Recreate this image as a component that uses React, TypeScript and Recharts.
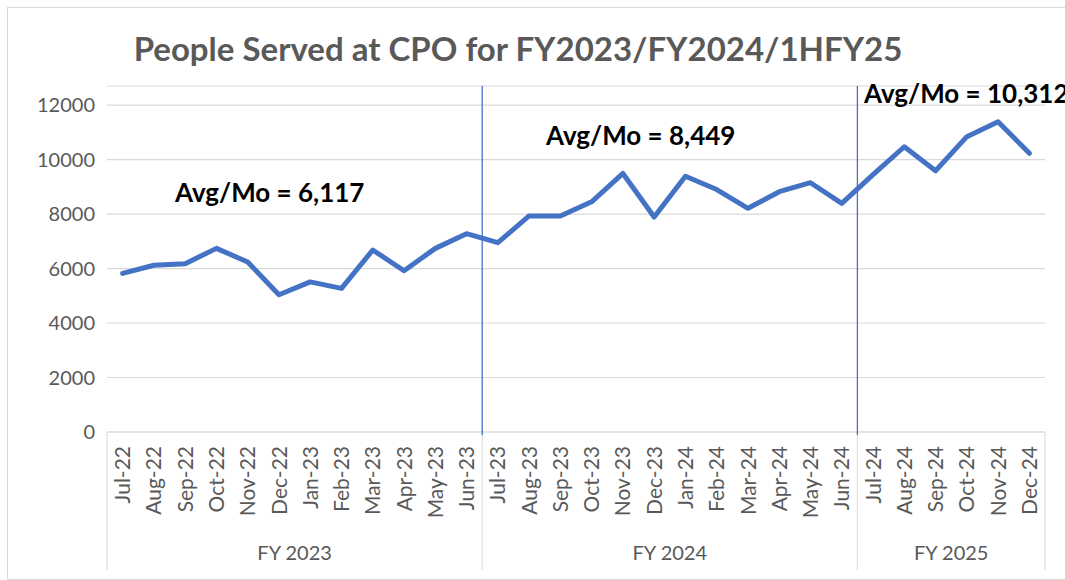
import { ComposedChart, Line, XAxis, YAxis, CartesianGrid } from 'recharts';

const months = [
  'Jul-22', 'Aug-22', 'Sep-22', 'Oct-22', 'Nov-22', 'Dec-22',
  'Jan-23', 'Feb-23', 'Mar-23', 'Apr-23', 'May-23', 'Jun-23',
  'Jul-23', 'Aug-23', 'Sep-23', 'Oct-23', 'Nov-23', 'Dec-23',
  'Jan-24', 'Feb-24', 'Mar-24', 'Apr-24', 'May-24', 'Jun-24',
  'Jul-24', 'Aug-24', 'Sep-24', 'Oct-24', 'Nov-24', 'Dec-24',
];
const served = [
  5820, 6120, 6180, 6740, 6240, 5040, 5510, 5270, 6680, 5920, 6740, 7280,
  6950, 7930, 7930, 8450, 9490, 7890, 9390, 8900, 8210, 8820, 9150, 8390,
  9450, 10470, 9590, 10840, 11390, 10230,
];
const yTicks = [0, 2000, 4000, 6000, 8000, 10000, 12000];
const fiscalYears = [
  { label: 'FY 2023', first: 0, last: 11 },
  { label: 'FY 2024', first: 12, last: 23 },
  { label: 'FY 2025', first: 24, last: 29 },
];
const averages = ['Avg/Mo = 6,117', 'Avg/Mo = 8,449', 'Avg/Mo = 10,312'];

const data = months.map((m, i) => ({ month: m, people: served[i] }));

const W = 1065;
const H = 580;
const TOP = 86;
const LEFT = 107;
const RIGHT = 20;
const AXIS_H = 148;
const PLOT_H = H - TOP - AXIS_H;
const BAND = (W - LEFT - RIGHT) / months.length;
const FONT = 'Lato, sans-serif';
const GRAY = '#595959';

// month label plus the fiscal-year box lines, labels and the blue dividers
function MonthTick(props: any) {
  const { x, y, payload } = props;
  const i = payload.index;
  const parts: any[] = [];
  fiscalYears.forEach((fy, k) => {
    if (i === fy.first) {
      const bx = x - BAND / 2;
      parts.push(<line key="l" x1={bx} x2={bx} y1={y} y2={y + 138} stroke="#d9d9d9" />);
      if (k > 0) {
        parts.push(<line key="d" x1={bx} x2={bx} y1={y - PLOT_H} y2={y + 3} stroke="#4472C4" strokeWidth={1.3} />);
      }
      const cx = x + ((fy.last - fy.first) / 2) * BAND;
      parts.push(
        <text key="fy" x={cx} y={y + 128} textAnchor="middle" fill={GRAY} fontSize={20} fontFamily={FONT}>
          {fy.label}
        </text>
      );
    }
    if (i === months.length - 1 && i === fy.last) {
      parts.push(<line key="r" x1={x + BAND / 2} x2={x + BAND / 2} y1={y} y2={y + 138} stroke="#d9d9d9" />);
    }
  });
  return (
    <g>
      <text
        transform={`translate(${x},${y + 14}) rotate(-90)`}
        textAnchor="end"
        dy="0.36em"
        fill={GRAY}
        fontSize={21}
        fontFamily={FONT}
      >
        {payload.value}
      </text>
      {parts}
    </g>
  );
}

export default function App() {
  const annotation = { position: 'absolute' as const, fontFamily: FONT, fontWeight: 700, fontSize: 26, color: '#000', whiteSpace: 'nowrap' as const, lineHeight: 1 };
  return (
    <div style={{ position: 'absolute', left: 0, top: 0, width: W, height: H, overflow: 'hidden', background: '#fff' }}>
      <div style={{ position: 'absolute', left: 7, top: 7, width: 1100, height: 571, border: '1px solid #d9d9d9' }} />
      <div style={{ position: 'absolute', left: 0, top: 0 }}>
        <ComposedChart width={W} height={H} data={data} margin={{ top: TOP, right: RIGHT, left: 0, bottom: 0 }}>
          <CartesianGrid horizontal vertical={false} stroke="#d9d9d9" strokeWidth={1.2} />
          <YAxis
            width={LEFT}
            domain={[0, 12700]}
            ticks={yTicks}
            allowDataOverflow
            tickLine={false}
            axisLine={false}
            tickMargin={6}
            tick={{ fill: GRAY, fontSize: 20, fontFamily: FONT }}
          />
          <Line
            dataKey="people"
            stroke="#4472C4"
            strokeWidth={5}
            dot={false}
            strokeLinejoin="round"
            strokeLinecap="round"
            isAnimationActive={false}
          />
          <XAxis
            dataKey="month"
            height={AXIS_H}
            interval={0}
            padding={{ left: BAND / 2, right: BAND / 2 }}
            tickLine={false}
            tickSize={0}
            tickMargin={0}
            axisLine={{ stroke: '#d9d9d9', strokeWidth: 1.2 }}
            tick={<MonthTick />}
          />
        </ComposedChart>
      </div>
      <div style={{ position: 'absolute', left: 0, width: 1036, top: 32, textAlign: 'center', fontFamily: FONT, fontWeight: 700, fontSize: 33, color: GRAY, lineHeight: 1 }}>
        People Served at CPO for FY2023/FY2024/1HFY25
      </div>
      <div style={{ ...annotation, left: 175, top: 179 }}>{averages[0]}</div>
      <div style={{ ...annotation, left: 546, top: 122 }}>{averages[1]}</div>
      <div style={{ ...annotation, left: 864, top: 80 }}>{averages[2]}</div>
    </div>
  );
}
